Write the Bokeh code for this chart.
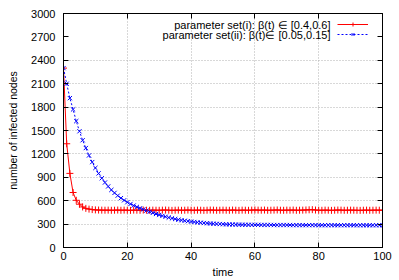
from bokeh.plotting import figure
from bokeh.models import (Range1d, FixedTicker, LinearAxis, Legend, LegendItem, Label)
from bokeh.embed import file_html
from bokeh.resources import INLINE

time = list(range(0, 101))

infected_i = [2300,1330,950,705,605,555,520,502,492,486,482,480,479,478,479,477,478,480,477,479,
              478,476,479,478,477,480,478,477,479,478,477,479,480,478,476,478,479,477,478,480,
              478,477,479,478,476,478,480,479,477,478,479,478,477,480,478,476,479,478,477,479,
              481,479,478,480,477,478,479,481,478,477,479,478,480,477,478,479,481,483,485,480,
              478,477,479,478,476,478,480,479,477,478,479,478,477,476,478,479,477,478,479,478,478]

infected_ii = [2300,2100,1915,1770,1620,1490,1375,1275,1180,1095,
               1020,950,888,833,783,738,700,665,633,605,
               580,558,538,520,503,488,473,458,444,430,
               417,405,394,384,374,365,357,350,343,337,
               332,327,322,318,314,311,308,305,303,301,
               299,297,296,295,294,293,292,291,291,290,
               290,290,289,289,289,289,288,288,288,288,
               288,288,287,287,287,287,287,287,287,287,
               286,286,286,286,286,286,286,286,286,286,
               286,286,285,285,285,285,285,285,285,285,
               285]

x_ticks = [0, 20, 40, 60, 80, 100]
y_ticks = [0, 300, 600, 900, 1200, 1500, 1800, 2100, 2400, 2700, 3000]
label_i = "parameter set(i): \u03b2(t) \u2208 [0.4,0.6]"
label_ii = "parameter set(ii): \u03b2(t)\u2208 [0.05,0.15]"

FONT = "Liberation Sans"

p = figure(width=399, height=280, output_backend="svg", toolbar_location=None,
           x_range=Range1d(0, 100), y_range=Range1d(0, 3000),
           min_border_left=63, min_border_right=17, min_border_top=13, min_border_bottom=33)
p.outline_line_color = "black"
p.outline_line_width = 1
p.background_fill_color = "white"
p.border_fill_color = "white"

for ax in (p.xaxis[0], p.yaxis[0]):
    ax.major_tick_in = 5
    ax.major_tick_out = 0
    ax.minor_tick_line_color = None
    ax.axis_line_color = "black"
    ax.major_label_text_font = FONT
    ax.major_label_text_font_size = "11px"
    ax.major_label_text_color = "black"
    ax.axis_label_text_font = FONT
    ax.axis_label_text_font_style = "normal"
    ax.axis_label_text_color = "black"

p.xaxis.axis_label_text_font_size = "11px"
p.yaxis.axis_label_text_font_size = "10.5px"
p.xaxis.ticker = FixedTicker(ticks=x_ticks)
p.yaxis.ticker = FixedTicker(ticks=y_ticks)
p.xaxis.axis_label = "time"
p.yaxis.axis_label = "number of infected nodes"
p.xaxis.major_label_standoff = 4
p.yaxis.major_label_standoff = 8
p.xaxis.axis_label_standoff = 3
p.yaxis.axis_label_standoff = 9

# mirrored ticks on top and right (labels not drawn)
top = LinearAxis(ticker=FixedTicker(ticks=x_ticks), major_tick_in=5, major_tick_out=0,
                 minor_tick_line_color=None, major_label_text_font_size="0px",
                 major_label_text_color=None,
                 major_label_standoff=0, axis_line_color="black")
right = LinearAxis(ticker=FixedTicker(ticks=y_ticks), major_tick_in=5, major_tick_out=0,
                   minor_tick_line_color=None, major_label_text_font_size="0px",
                   major_label_text_color=None,
                   major_label_standoff=0, axis_line_color="black")
p.add_layout(top, "above")
p.add_layout(right, "right")

p.xgrid.ticker = FixedTicker(ticks=x_ticks)
p.ygrid.ticker = FixedTicker(ticks=[v for v in y_ticks if v != 2700])
for g in (p.xgrid[0], p.ygrid[0]):
    g.grid_line_color = "#b0b0b0"
    g.grid_line_dash = "1 2"
    g.grid_line_width = 1

r1 = p.line(time, infected_i, line_color="#ff0000", line_width=1)
m1 = p.scatter(time, infected_i, marker="cross", size=7, line_color="#ff0000", line_width=1)
r2 = p.line(time, infected_ii, line_color="#0000ff", line_width=1, line_dash="2 2")
m2 = p.scatter(time, infected_ii, marker="x", size=6, line_color="#0000ff", line_width=1)

legend = Legend(items=[LegendItem(label=" ", renderers=[r1, m1]),
                       LegendItem(label=" ", renderers=[r2, m2])],
                location=(274, 208), glyph_width=31, glyph_height=10, label_height=10,
                label_width=0, label_standoff=0, spacing=0, padding=0, margin=0,
                background_fill_alpha=0, border_line_color=None,
                label_text_font_size="1px", label_text_color=None)
p.add_layout(legend)

p.add_layout(Label(x=267, y=223, x_units="screen", y_units="screen", text=label_i,
                   text_align="right", text_baseline="middle", text_font=FONT,
                   text_font_size="11px", text_color="black"))
p.add_layout(Label(x=267, y=212.5, x_units="screen", y_units="screen", text=label_ii,
                   text_align="right", text_baseline="middle", text_font=FONT,
                   text_font_size="11px", text_color="black"))

open("out.html", "w").write(file_html(p, INLINE))
